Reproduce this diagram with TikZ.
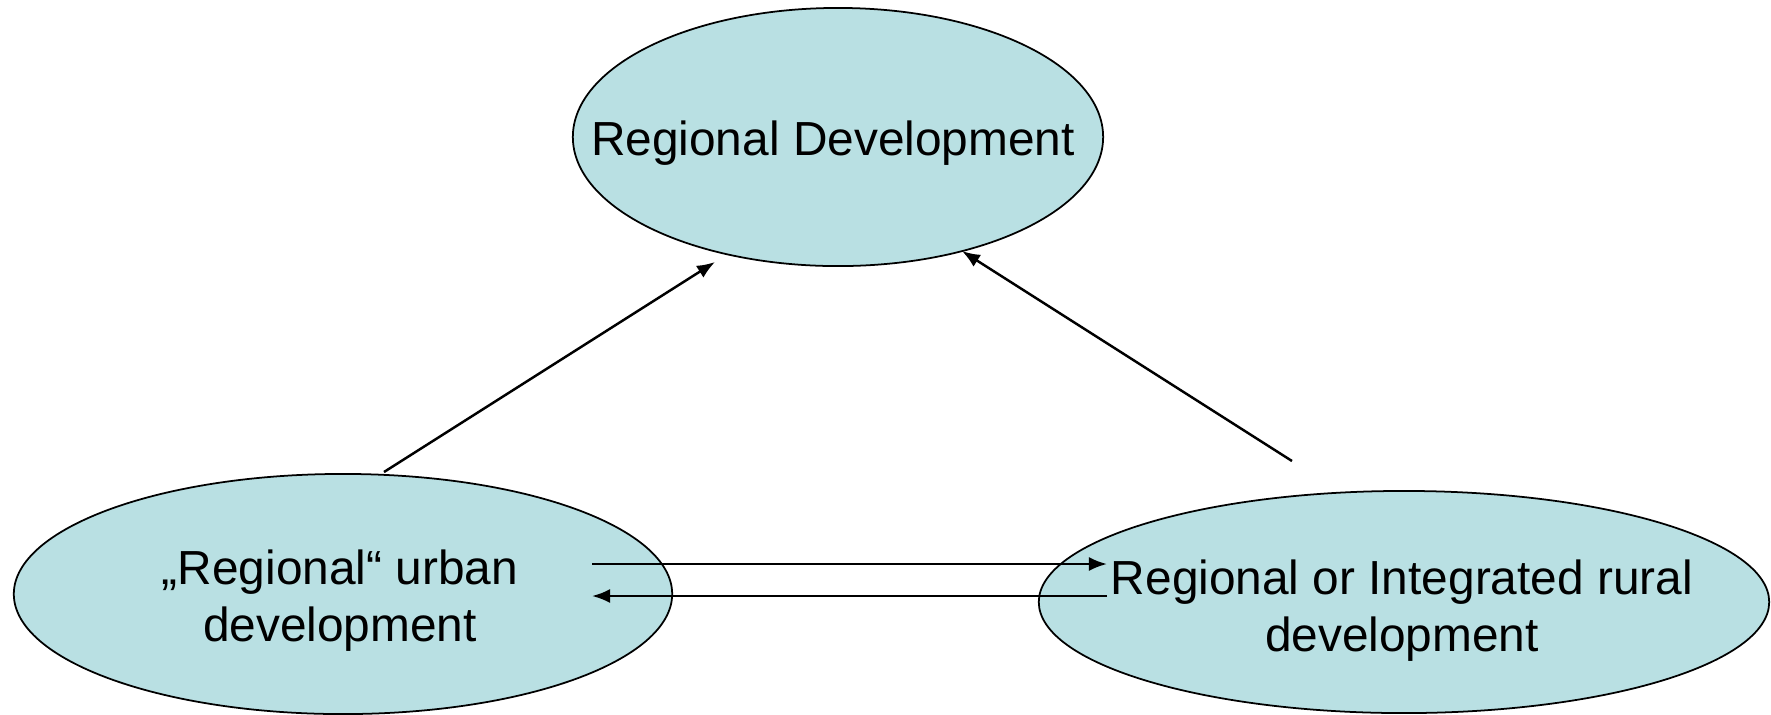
\documentclass[tikz,border=0pt]{standalone}
\usepackage{fontspec}
\setmainfont{Liberation Sans}
\usetikzlibrary{shapes.geometric,arrows.meta}
\definecolor{teallight}{RGB}{185,224,227}

\begin{document}
\begin{tikzpicture}[x=0.01cm,y=-0.01cm,
  blob/.style={ellipse,draw,line width=0.5pt,fill=teallight,inner sep=0pt},
  txt/.style={align=center,font=\fontsize{13.6pt}{16.2pt}\selectfont,inner sep=0pt},
  link/.style={-{Latex[length=1.8mm,width=1.4mm]},line width=0.7pt}]
  \useasboundingbox (0,0) rectangle (1771,714);
  \node[blob,minimum width=5.30cm,minimum height=2.58cm] (regdev) at (838,137) {};
  \node[blob,minimum width=6.58cm,minimum height=2.40cm] (urban) at (343,594) {};
  \node[blob,minimum width=7.30cm,minimum height=2.22cm] (rural) at (1404,602) {};
  \node[txt] (regdevtxt) at (833,143) {Regional Development};
  \node[txt] (urbantxt) at (340,601) {„Regional“ urban\\development};
  \node[txt] (ruraltxt) at (1402,611) {Regional or Integrated rural\\development};
  % arrow ends
  \coordinate (urbanout) at (384,472);
  \coordinate (regdevinl) at (715,262);
  \coordinate (ruralout) at (1292,461);
  \coordinate (regdevinr) at (962,251);
  \coordinate (urbanright) at (592,564);
  \coordinate (ruralin) at (1107,564);
  \coordinate (ruralleft) at (1107,596);
  \coordinate (urbanin) at (592,596);
  \foreach \s/\t in {urbanout/regdevinl,ruralout/regdevinr,urbanright/ruralin,ruralleft/urbanin}
  {
    \draw[link] (\s) -- (\t);
  }
\end{tikzpicture}
\end{document}
